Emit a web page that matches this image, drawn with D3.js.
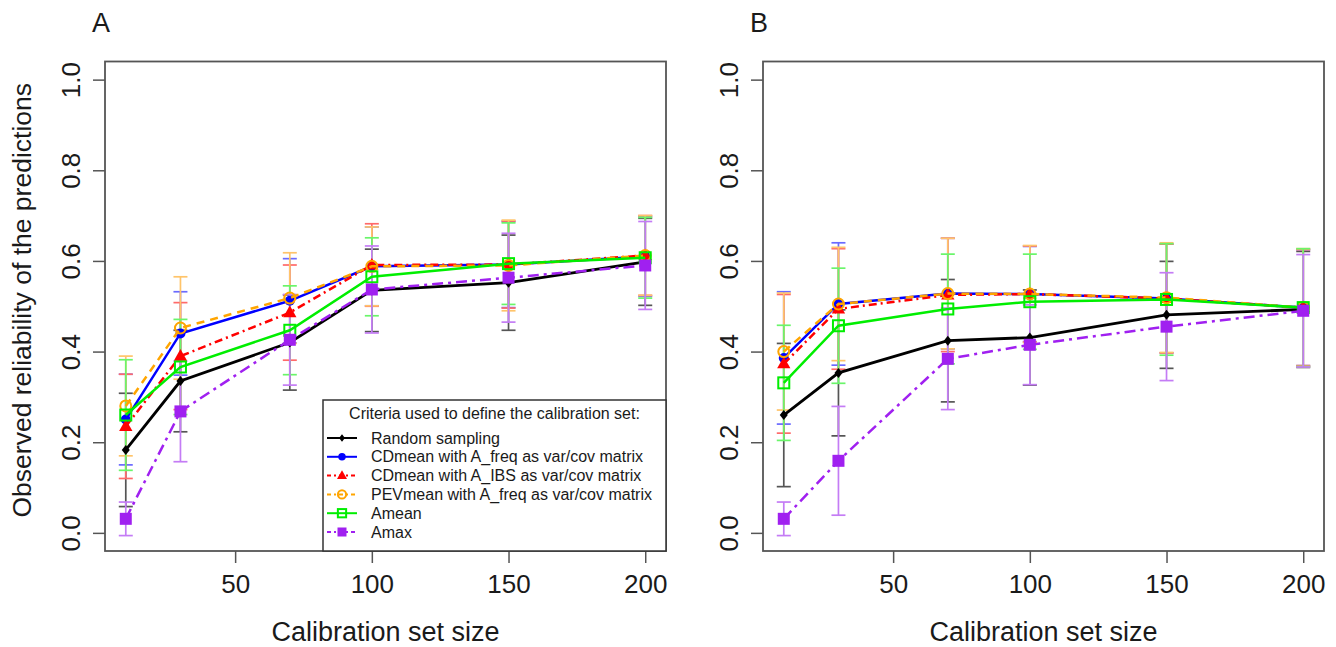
<!DOCTYPE html>
<html>
<head>
<meta charset="utf-8">
<script src="https://cdn.jsdelivr.net/npm/d3@7/dist/d3.min.js"></script>
<style>
  html, body { margin: 0; padding: 0; background: #fff; }
  svg { display: block; font-family: "Liberation Sans", Arial, Helvetica, sans-serif; }
</style>
</head>
<body>
<svg id="chart" width="1336" height="647"></svg>
<script>
// ---------------- DATA ----------------
const xValues = [10, 30, 70, 100, 150, 200];
const xTicks = [50, 100, 150, 200];
const yTicks = [0, 0.2, 0.4, 0.6, 0.8, 1.0];
const panelLetters = ["A", "B"];
const seriesNames = [
  "Random sampling",
  "CDmean with A_freq as var/cov matrix",
  "CDmean with A_IBS as var/cov matrix",
  "PEVmean with A_freq as var/cov matrix",
  "Amean",
  "Amax"
];
const legendTitle = "Criteria used to define the calibration set:";
const xTitle = "Calibration set size";
const yTitle = "Observed reliability of the predictions";

// Panel A means / standard deviations
const meanA_random = [0.183, 0.335, 0.420, 0.535, 0.552, 0.598];
const sdA_random   = [0.125, 0.112, 0.105, 0.091, 0.105, 0.096];
const meanA_cdFreq = [0.250, 0.440, 0.512, 0.588, 0.592, 0.610];
const sdA_cdFreq   = [0.100, 0.092, 0.093, 0.087, 0.095, 0.088];
const meanA_cdIBS  = [0.235, 0.390, 0.486, 0.591, 0.592, 0.612];
const sdA_cdIBS    = [0.115, 0.118, 0.105, 0.091, 0.096, 0.088];
const meanA_pev    = [0.280, 0.452, 0.518, 0.588, 0.590, 0.612];
const sdA_pev      = [0.110, 0.113, 0.100, 0.087, 0.100, 0.088];
const meanA_amean  = [0.260, 0.366, 0.447, 0.565, 0.594, 0.607];
const sdA_amean    = [0.122, 0.105, 0.098, 0.086, 0.090, 0.089];
const meanA_amax   = [0.031, 0.268, 0.426, 0.537, 0.563, 0.590];
const sdA_amax     = [0.037, 0.111, 0.100, 0.096, 0.098, 0.097];

// Panel B means / standard deviations
const meanB_random = [0.260, 0.353, 0.424, 0.431, 0.481, 0.493];
const sdB_random   = [0.158, 0.139, 0.135, 0.105, 0.118, 0.128];
const meanB_cdFreq = [0.386, 0.505, 0.528, 0.527, 0.517, 0.497];
const sdB_cdFreq   = [0.146, 0.135, 0.122, 0.105, 0.120, 0.128];
const meanB_cdIBS  = [0.373, 0.494, 0.525, 0.527, 0.517, 0.497];
const sdB_cdIBS    = [0.153, 0.133, 0.125, 0.106, 0.120, 0.128];
const meanB_pev    = [0.400, 0.505, 0.528, 0.527, 0.519, 0.497];
const sdB_pev      = [0.129, 0.125, 0.122, 0.107, 0.121, 0.130];
const meanB_amean  = [0.331, 0.457, 0.494, 0.510, 0.515, 0.497];
const sdB_amean    = [0.127, 0.127, 0.121, 0.105, 0.123, 0.130];
const meanB_amax   = [0.031, 0.159, 0.384, 0.415, 0.455, 0.490];
const sdB_amax     = [0.037, 0.120, 0.112, 0.088, 0.119, 0.124];

// ---------------- STYLES ----------------
const colors    = ["#000000", "#0000FF", "#FF0000", "#FFA500", "#00EE00", "#A020F0"];
const barColors = ["#555555", "#6a6aff", "#ff6a6a", "#ffc46a", "#6af56a", "#c47cf5"];
const dashes  = [null, null, "8,4,2,4", "8,6", null, "11,5,3,5"];
const markers = ["diamond", "circle", "triangle", "ocircle", "osquare", "square"];
const widths  = [2.8, 2.5, 2.5, 2.5, 2.5, 2.5];

const panels = [
  { letter: panelLetters[0], left: 105, means: [meanA_random, meanA_cdFreq, meanA_cdIBS, meanA_pev, meanA_amean, meanA_amax],
    sds: [sdA_random, sdA_cdFreq, sdA_cdIBS, sdA_pev, sdA_amean, sdA_amax], yTitle: true, legend: true },
  { letter: panelLetters[1], left: 763, means: [meanB_random, meanB_cdFreq, meanB_cdIBS, meanB_pev, meanB_amean, meanB_amax],
    sds: [sdB_random, sdB_cdFreq, sdB_cdIBS, sdB_pev, sdB_amean, sdB_amax], yTitle: false, legend: false }
];

const svg = d3.select("#chart");
const plotW = 561, plotTop = 61.5, plotBottom = 551;
const axisColor = "#555";
const textColor = "#1a1a1a";

function drawMarker(g, type, cx, cy, color, scale) {
  const s = scale || 1;
  if (type === "diamond") {
    const r = 5 * s;
    g.append("path").attr("d", `M${cx},${cy - r}L${cx + r * 0.8},${cy}L${cx},${cy + r}L${cx - r * 0.8},${cy}Z`).attr("fill", color);
  } else if (type === "circle") {
    g.append("circle").attr("cx", cx).attr("cy", cy).attr("r", 5 * s).attr("fill", color);
  } else if (type === "triangle") {
    const r = 7 * s;
    g.append("path").attr("d", `M${cx},${cy - r}L${cx + r * 0.95},${cy + r * 0.65}L${cx - r * 0.95},${cy + r * 0.65}Z`).attr("fill", color);
  } else if (type === "ocircle") {
    g.append("circle").attr("cx", cx).attr("cy", cy).attr("r", 5.5 * s).attr("fill", "none").attr("stroke", color).attr("stroke-width", 2);
  } else if (type === "osquare") {
    const h = 5.5 * s;
    g.append("rect").attr("x", cx - h).attr("y", cy - h).attr("width", 2 * h).attr("height", 2 * h)
      .attr("fill", "none").attr("stroke", color).attr("stroke-width", 2);
  } else if (type === "square") {
    const h = 6 * s;
    g.append("rect").attr("x", cx - h).attr("y", cy - h).attr("width", 2 * h).attr("height", 2 * h).attr("fill", color);
  }
}

panels.forEach(p => {
  const x = d3.scaleLinear().domain([2.4, 207.6]).range([p.left, p.left + plotW]);
  const y = d3.scaleLinear().domain([-0.04, 1.04]).range([plotBottom, plotTop]);
  const g = svg.append("g");

  // X axis
  const xa = g.append("g").attr("transform", `translate(0,${plotBottom})`)
    .call(d3.axisBottom(x).tickValues(xTicks).tickSize(12).tickFormat(d3.format("d")));
  xa.select(".domain").remove();
  xa.selectAll(".tick line").attr("stroke", axisColor).attr("stroke-width", 1.5);
  xa.selectAll(".tick text").attr("y", 42).attr("dy", 0).attr("font-size", 26).attr("fill", textColor)
    .attr("font-family", "Liberation Sans, Arial, sans-serif");

  // Y axis
  const ya = g.append("g").attr("transform", `translate(${p.left},0)`)
    .call(d3.axisLeft(y).tickValues(yTicks).tickSize(12).tickFormat(d3.format(".1f")));
  ya.select(".domain").remove();
  ya.selectAll(".tick line").attr("stroke", axisColor).attr("stroke-width", 1.5);
  ya.selectAll(".tick text").attr("x", 0).attr("y", 0).attr("dy", 0)
    .attr("transform", "translate(-25,0) rotate(-90)")
    .attr("text-anchor", "middle").attr("font-size", 26).attr("fill", textColor)
    .attr("font-family", "Liberation Sans, Arial, sans-serif");

  // Plot box
  g.append("rect").attr("x", p.left).attr("y", plotTop).attr("width", plotW).attr("height", plotBottom - plotTop)
    .attr("fill", "none").attr("stroke", axisColor).attr("stroke-width", 1.8);

  // Titles
  g.append("text").attr("x", p.left + plotW / 2).attr("y", 641).attr("text-anchor", "middle")
    .attr("font-size", 27).attr("fill", textColor).text(xTitle);
  if (p.yTitle) {
    g.append("text").attr("transform", `translate(31,${(plotTop + plotBottom) / 2 - 6}) rotate(-90)`)
      .attr("text-anchor", "middle").attr("font-size", 26.5).attr("fill", textColor).text(yTitle);
  }
  g.append("text").attr("x", p.left - 4).attr("y", 32).attr("text-anchor", "middle")
    .attr("font-size", 27).attr("fill", textColor).text(p.letter);

  // Error bars
  const eg = g.append("g");
  p.means.forEach((m, si) => {
    m.forEach((v, i) => {
      const cx = x(xValues[i]);
      const lo = y(v - p.sds[si][i]), hi = y(v + p.sds[si][i]);
      const bar = eg.append("g").attr("stroke", barColors[si]).attr("stroke-width", 1.7);
      bar.append("line").attr("x1", cx).attr("x2", cx).attr("y1", lo).attr("y2", hi);
      bar.append("line").attr("x1", cx - 7).attr("x2", cx + 7).attr("y1", lo).attr("y2", lo);
      bar.append("line").attr("x1", cx - 7).attr("x2", cx + 7).attr("y1", hi).attr("y2", hi);
    });
  });

  // Lines and markers
  const line = d3.line().x((d, i) => x(xValues[i])).y(d => y(d));
  p.means.forEach((m, si) => {
    const sg = g.append("g");
    sg.append("path").attr("d", line(m)).attr("fill", "none").attr("stroke", colors[si])
      .attr("stroke-width", widths[si]).attr("stroke-dasharray", dashes[si]);
    m.forEach((v, i) => drawMarker(sg, markers[si], x(xValues[i]), y(v), colors[si]));
  });

  // Legend
  if (p.legend) {
    const lx = 323, ly = 400, lw = p.left + plotW - lx, lh = plotBottom - ly;
    const lg = g.append("g");
    lg.append("rect").attr("x", lx).attr("y", ly).attr("width", lw).attr("height", lh)
      .attr("fill", "#fff").attr("stroke", "#333").attr("stroke-width", 1.5);
    lg.append("text").attr("x", lx + lw / 2).attr("y", 419).attr("text-anchor", "middle")
      .attr("font-size", 16).attr("fill", textColor).text(legendTitle);
    seriesNames.forEach((name, si) => {
      const cy = 438 + si * 18.8;
      lg.append("line").attr("x1", 327).attr("x2", 357).attr("y1", cy).attr("y2", cy)
        .attr("stroke", colors[si]).attr("stroke-width", 2).attr("stroke-dasharray", dashes[si] ? "4,3,2,3" : null);
      drawMarker(lg, markers[si], 342, cy, colors[si], 0.75);
      lg.append("text").attr("x", 371).attr("y", cy + 5.5).attr("font-size", 16).attr("fill", textColor).text(name);
    });
  }
});
</script>
</body>
</html>
